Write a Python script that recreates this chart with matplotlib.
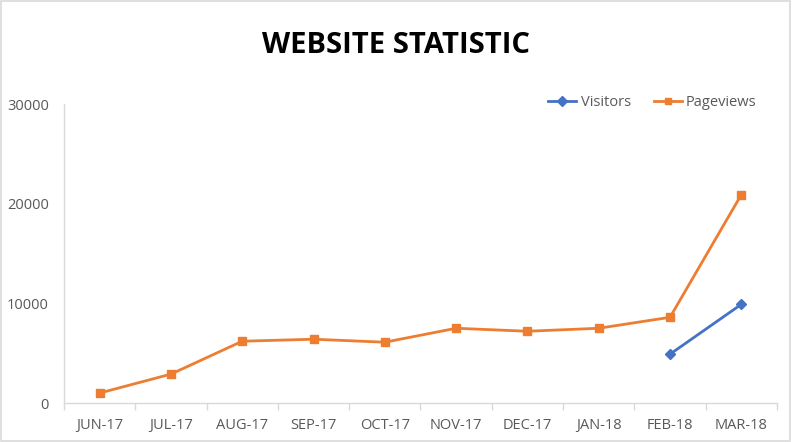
import matplotlib.pyplot as plt
from matplotlib.patches import Rectangle

months = ['JUN-17', 'JUL-17', 'AUG-17', 'SEP-17', 'OCT-17',
          'NOV-17', 'DEC-17', 'JAN-18', 'FEB-18', 'MAR-18']
pageviews = [1000, 2900, 6200, 6400, 6100, 7500, 7200, 7500, 8600, 20900]
visitor_months = ['FEB-18', 'MAR-18']
visitors = [4900, 9900]

plt.rcParams['font.family'] = ['Open Sans', 'DejaVu Sans']
grey = '#595959'
line_grey = '#D9D9D9'

fig = plt.figure(figsize=(7.92, 4.42), dpi=100)
ax = fig.add_axes([0.0808, 0.0882, 0.9002, 0.6765])

x = list(range(len(months)))
vx = [months.index(m) for m in visitor_months]
ax.plot(vx, visitors, '-D', color='#4472C4', lw=2, ms=5.5, label='Visitors')
ax.plot(x, pageviews, '-s', color='#ED7D31', lw=2, ms=5.5, label='Pageviews')

ax.set_xlim(-0.5, len(months) - 0.5)
ax.set_ylim(0, 30000)
ax.set_yticks([0, 10000, 20000, 30000])
ax.set_xticks(x)
ax.set_xticklabels(months)
ax.set_xticks([i - 0.5 for i in range(len(months) + 1)], minor=True)
ax.tick_params(axis='x', which='major', length=0, pad=11, labelsize=10.5, labelcolor=grey)
ax.tick_params(axis='x', which='minor', length=5, color=line_grey, width=1)
ax.tick_params(axis='y', length=0, pad=11, labelsize=10.5, labelcolor=grey)

for s in ['top', 'right']:
    ax.spines[s].set_visible(False)
for s in ['left', 'bottom']:
    ax.spines[s].set_color(line_grey)
    ax.spines[s].set_linewidth(1)

ax.legend(loc='upper right', bbox_to_anchor=(0.99, 1.075), ncol=2, frameon=False,
          fontsize=10.5, labelcolor=grey, handlelength=1.9, handletextpad=0.3,
          columnspacing=1.6, markerscale=0.85)

fig.text(0.5, 0.898, 'WEBSITE STATISTIC', ha='center', va='center',
         fontsize=21, fontweight='bold', color='black')

fig.patches.append(Rectangle((0.001, 0.002), 0.997, 0.996, transform=fig.transFigure,
                             fill=False, edgecolor=line_grey, lw=1.2))

fig.savefig('out.png', dpi=100)
